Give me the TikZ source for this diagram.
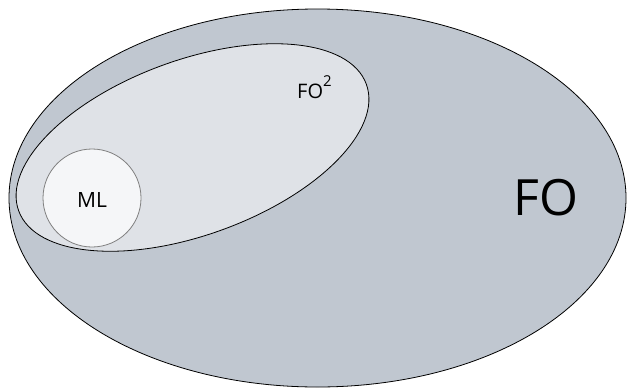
\documentclass[tikz,border=0pt]{standalone}
\usepackage{fontspec}
\setmainfont{Open Sans}
\usetikzlibrary{shapes.geometric}

\definecolor{fofill}{RGB}{192,199,208}
\definecolor{fotwofill}{RGB}{223,226,231}
\definecolor{mlfill}{RGB}{245,246,248}

\begin{document}
\begin{tikzpicture}[
    x=1pt, y=1pt,
    logic/.style={ellipse, draw, line width=0.8pt, inner sep=0pt},
    logicname/.style={inner sep=0pt, font=\fontsize{20}{24}\selectfont}
]
\useasboundingbox (0,0) rectangle (628,-388);

% the three classes of logics
\node[logic, fill=fofill, minimum width=617pt, minimum height=378pt] (fo) at (317.5,-198) {};
\node[logic, fill=fotwofill, minimum width=370pt, minimum height=175pt, rotate=20] (fotwo) at (192.5,-147.5) {};
\node[circle, draw=gray, line width=0.8pt, fill=mlfill, minimum size=98pt, inner sep=0pt] (ml) at (92,-198) {};

% names
\node[logicname, font=\fontsize{50}{60}\selectfont] (foname) at (546,-198) {FO};
\node[logicname, anchor=base west] (fotwoname) at (297,-98) {FO\raisebox{12pt}{\fontsize{15}{15}\selectfont 2}};
\node[logicname, font=\fontsize{21}{25}\selectfont] (mlname) at (92,-200) {ML};

\end{tikzpicture}
\end{document}
